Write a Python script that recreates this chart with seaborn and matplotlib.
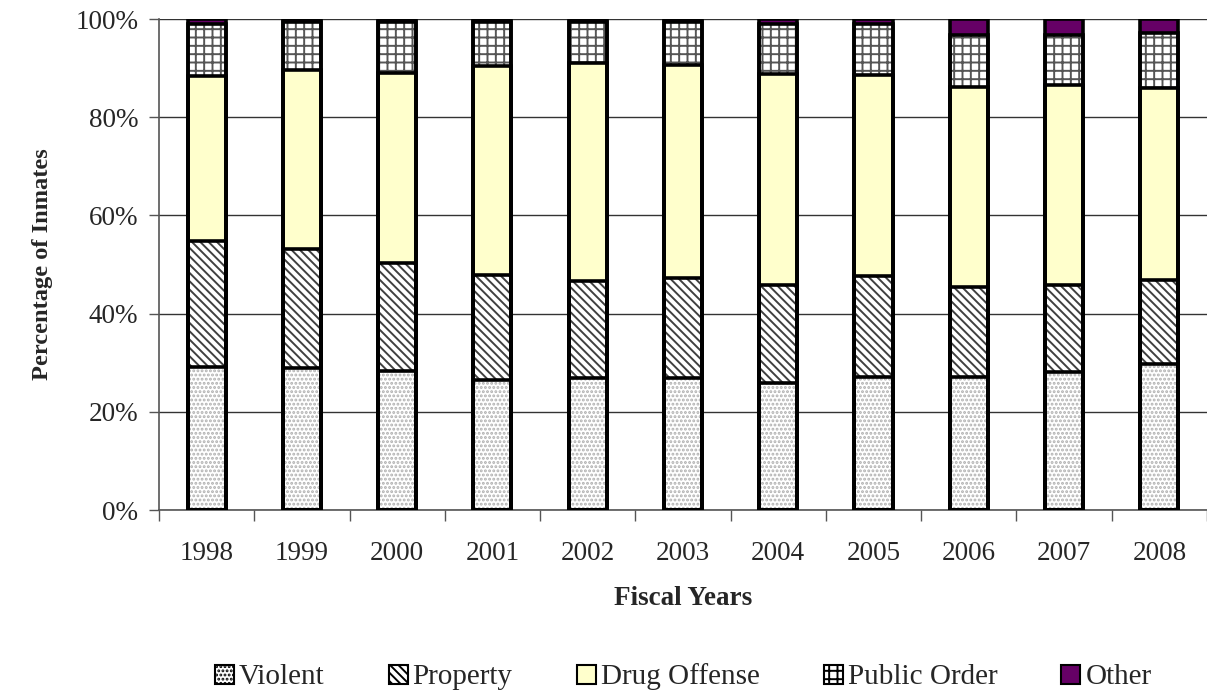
import numpy as np
import pandas as pd
import matplotlib
matplotlib.use("Agg")
import matplotlib.pyplot as plt
from matplotlib.patches import Patch
from matplotlib.ticker import FixedLocator, PercentFormatter
import seaborn as sns

years = ["1998", "1999", "2000", "2001", "2002", "2003", "2004", "2005", "2006", "2007", "2008"]
violent = [29.1, 29.0, 28.3, 26.5, 26.9, 26.9, 25.9, 27.1, 27.1, 28.1, 29.7]
prop = [25.7, 24.2, 22.1, 21.4, 19.7, 20.3, 19.9, 20.5, 18.3, 17.7, 17.1]
drug = [33.6, 36.4, 38.6, 42.6, 44.4, 43.4, 43.0, 41.0, 40.8, 40.8, 39.1]
public_order = [10.6, 9.7, 10.3, 8.9, 8.4, 8.8, 10.2, 10.4, 10.5, 10.1, 11.2]
other = [1.0, 0.7, 0.7, 0.6, 0.6, 0.6, 1.0, 1.0, 3.3, 3.3, 2.9]

sns.set_style("white")
plt.rcParams['font.family'] = ['Liberation Serif', 'DejaVu Serif']
plt.rcParams['hatch.linewidth'] = 1.4

df = pd.DataFrame({"Year": years, "Violent": violent, "Property": prop,
                   "Drug Offense": drug, "Public Order": public_order, "Other": other})
cats = ["Violent", "Property", "Drug Offense", "Public Order", "Other"]
cum = df[cats].cumsum(axis=1)
cum["Year"] = df["Year"]

# face colour, hatch, hatch colour
styles = {
    "Violent": ("white", "....", "#b0b0b0"),
    "Property": ("white", "\\\\\\\\", "#404040"),
    "Drug Offense": ("#ffffcc", "", "black"),
    "Public Order": ("white", "++", "#555555"),
    "Other": ("#660066", "", "black"),
}

fig = plt.figure(figsize=(12.07, 6.94), dpi=100)
ax = fig.add_axes([0.1317, 0.265, 0.8683, 0.7076])

# draw cumulative bars from the top down so each lower segment covers the one above
for c in reversed(cats):
    face, hatch, hcol = styles[c]
    sns.barplot(data=cum, x="Year", y=c, color=face, width=0.4, hatch=hatch,
                edgecolor=hcol, linewidth=0, saturation=1, ax=ax, zorder=2)
    sns.barplot(data=cum, x="Year", y=c, color="black", fill=False, width=0.4,
                linewidth=2.6, ax=ax, zorder=3)

ax.set_ylim(0, 100)
ax.set_xlim(-0.5, len(years) - 0.5)
ax.yaxis.set_major_locator(FixedLocator([0, 20, 40, 60, 80, 100]))
ax.yaxis.set_major_formatter(PercentFormatter(decimals=0))
ax.grid(axis="y", color="#333333", linewidth=1.0, zorder=0)
ax.set_axisbelow(True)
ax.xaxis.set_minor_locator(FixedLocator(np.arange(-0.5, len(years), 1.0)))
ax.tick_params(axis="x", which="major", length=0, pad=22, labelsize=19.5)
ax.tick_params(axis="x", which="minor", length=8, width=1, color="#555555", direction="out", bottom=True)
ax.tick_params(axis="y", length=7, width=1, color="#555555", direction="out", left=True, labelsize=19.5, pad=8)
for s in ["top", "right"]:
    ax.spines[s].set_visible(False)
for s in ["left", "bottom"]:
    ax.spines[s].set_color("#555555")
    ax.spines[s].set_linewidth(1.2)

ax.set_xlabel("Fiscal Years", fontsize=19.5, fontweight="bold", labelpad=15)
ax.set_ylabel("Percentage of Inmates", fontsize=17.6, fontweight="bold", labelpad=16)

handles = [Patch(facecolor=styles[c][0], hatch=styles[c][1], edgecolor="black", linewidth=1.5, label=c)
           for c in cats]
fig.legend(handles=handles, loc="center", bbox_to_anchor=(0.566, 0.0245), ncol=5, frameon=False,
           fontsize=21, handlelength=0.65, handleheight=0.65, handletextpad=0.17,
           columnspacing=2.2, borderpad=0, borderaxespad=0)

fig.savefig("out.png", dpi=100)
